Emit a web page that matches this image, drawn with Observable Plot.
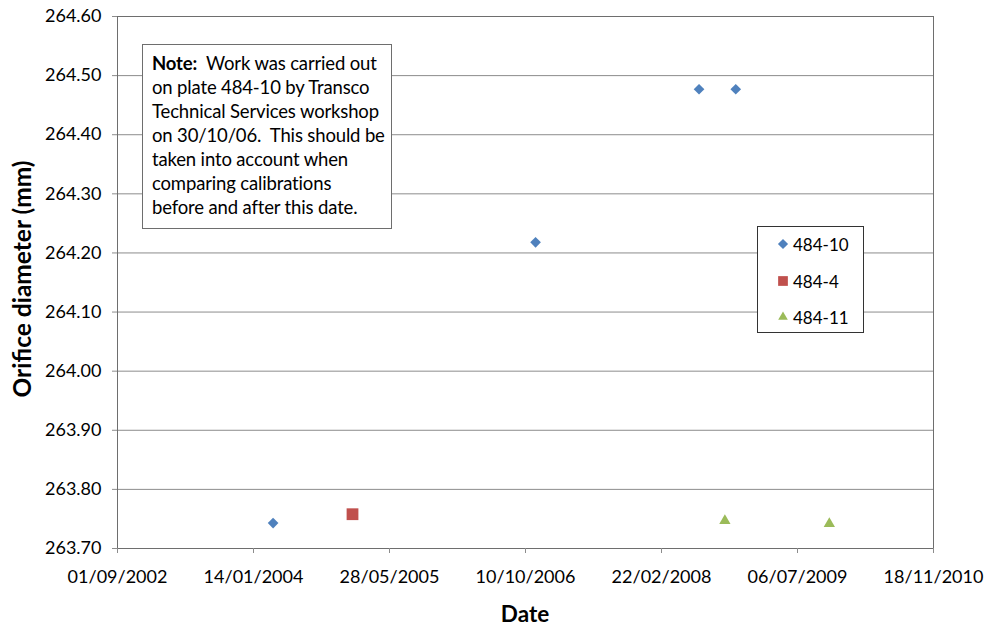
<!DOCTYPE html>
<html>
<head>
<meta charset="utf-8">
<script src="https://cdn.jsdelivr.net/npm/d3@7"></script>
<script src="https://cdn.jsdelivr.net/npm/@observablehq/plot@0.6"></script>
<style>
  html, body { margin: 0; padding: 0; background: #fff; }
  #wrap { position: relative; width: 985px; height: 628px; font-family: Lato, "Open Sans", sans-serif; color: #000; overflow: hidden; }
  #wrap > svg { position: absolute; left: 0; top: 0; }
  .ytitle { position: absolute; left: 22px; top: 279px; transform: translate(-50%, -50%) rotate(-90deg); font-weight: bold; font-size: 24.5px; line-height: 1; white-space: nowrap; }
  .xtitle { position: absolute; left: 525px; top: 603px; transform: translateX(-50%); font-weight: bold; font-size: 22.5px; line-height: 1; white-space: nowrap; }
  .note { position: absolute; left: 142px; top: 44px; width: 250px; height: 185px; box-sizing: border-box; border: 1px solid #6e6e6e; background: #fff; padding: 6px 4px 0 9px; font-size: 18.5px; line-height: 24px; white-space: nowrap; letter-spacing: -0.15px; }
  .legend { position: absolute; left: 757px; top: 226px; width: 107px; height: 107px; box-sizing: border-box; border: 1px solid #333; background: #fff; font-size: 17px; }
  .legend .item { position: absolute; left: 19px; height: 20px; display: flex; align-items: center; }
  .legend .item svg { display: block; margin-right: 4px; }
</style>
</head>
<body>
<div id="wrap"></div>
<script>
// Series data (dates, values in mm)
const dates48410 = ["2004-03-26", "2006-11-16", "2008-07-09", "2008-11-21"];
const values48410 = [263.743, 264.218, 264.477, 264.477];
const dates4844 = ["2005-01-12"];
const values4844 = [263.758];
const dates48411 = ["2008-10-12", "2009-10-31"];
const values48411 = [263.747, 263.742];

const seriesNames = ["484-10", "484-4", "484-11"];
const seriesColors = ["#4F81BD", "#C0504D", "#9BBB59"];
const seriesSymbols = ["diamond2", "square2", "triangle2"];

// Axis ticks
const xTickLabels = ["01/09/2002", "14/01/2004", "28/05/2005", "10/10/2006", "22/02/2008", "06/07/2009", "18/11/2010"];
const yTickValues = [263.70, 263.80, 263.90, 264.00, 264.10, 264.20, 264.30, 264.40, 264.50, 264.60];

const parseDMY = s => { const [d, m, y] = s.split("/").map(Number); return new Date(Date.UTC(y, m - 1, d)); };
const xTicks = xTickLabels.map(parseDMY);
const fmt = d3.utcFormat("%d/%m/%Y");

const mk = (dates, values, name) => dates.map((d, i) => ({date: new Date(d + "T00:00:00Z"), value: values[i], series: name}));
const d1 = mk(dates48410, values48410, seriesNames[0]);
const d2 = mk(dates4844, values4844, seriesNames[1]);
const d3s = mk(dates48411, values48411, seriesNames[2]);

const chart = Plot.plot({
  width: 985,
  height: 628,
  marginLeft: 117,
  marginRight: 52,
  marginTop: 16,
  marginBottom: 80,
  style: {fontFamily: "Lato, 'Open Sans', sans-serif", fontSize: "17px", color: "#000", background: "transparent"},
  x: {type: "utc", domain: [xTicks[0], xTicks[xTicks.length - 1]]},
  y: {domain: [yTickValues[0], yTickValues[yTickValues.length - 1]]},
  marks: [
    Plot.gridY(yTickValues, {stroke: "#8c8c8c", strokeOpacity: 1, strokeWidth: 1}),
    Plot.frame({stroke: "#6e6e6e", strokeWidth: 1}),
    Plot.axisY(yTickValues, {tickFormat: d3.format(".2f"), tickSize: 5, tickPadding: 11, stroke: "#8c8c8c", fill: "#000", label: null, fontSize: 18}),
    Plot.axisX(xTicks, {tickFormat: fmt, tickSize: 5, tickPadding: 17, stroke: "#8c8c8c", fill: "#000", label: null, fontSize: 18}),
    Plot.dot(d1, {x: "date", y: "value", symbol: () => seriesSymbols[0], fill: seriesColors[0], r: 4.8, stroke: "none"}),
    Plot.dot(d2, {x: "date", y: "value", symbol: () => seriesSymbols[1], fill: seriesColors[1], r: 7.5, stroke: "none"}),
    Plot.dot(d3s, {x: "date", y: "value", symbol: () => seriesSymbols[2], fill: seriesColors[2], r: 5.4, stroke: "none"})
  ]
});

const wrap = document.getElementById("wrap");
wrap.appendChild(chart);

const yt = document.createElement("div"); yt.className = "ytitle"; yt.textContent = "Orifice diameter (mm)"; wrap.appendChild(yt);
const xt = document.createElement("div"); xt.className = "xtitle"; xt.textContent = "Date"; wrap.appendChild(xt);

const note = document.createElement("div");
note.className = "note";
note.innerHTML = "<b>Note:</b>&nbsp; Work was carried out<br>on plate 484-10 by Transco<br>Technical Services workshop<br>on 30/10/06.&nbsp; This should be<br>taken into account when<br>comparing calibrations<br>before and after this date.";
wrap.appendChild(note);

const legend = document.createElement("div");
legend.className = "legend";
const itemTops = [7, 44, 80];
const symTypes = {diamond2: d3.symbolDiamond2, square2: d3.symbolSquare2, triangle2: d3.symbolTriangle2};
const symR = {diamond2: 4.6, square2: 6.2, triangle2: 4.6};
seriesNames.forEach((name, i) => {
  const it = document.createElement("div");
  it.className = "item";
  it.style.top = itemTops[i] + "px";
  const sym = d3.symbol(symTypes[seriesSymbols[i]], symR[seriesSymbols[i]] ** 2 * Math.PI)();
  it.innerHTML = `<svg width="12" height="12" viewBox="-6 -6 12 12"><path d="${sym}" fill="${seriesColors[i]}"></path></svg><span>${name}</span>`;
  legend.appendChild(it);
});
wrap.appendChild(legend);
</script>
</body>
</html>
